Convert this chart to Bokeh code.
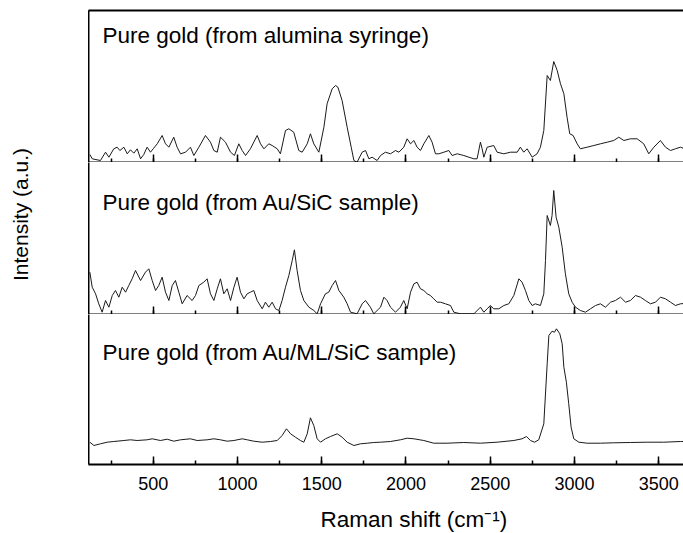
import math
from bokeh.plotting import figure
from bokeh.layouts import row, column
from bokeh.models import (Range1d, SingleIntervalTicker, LinearAxis, FixedTicker,
                          CustomLabelingPolicy)
from bokeh.core.properties import value
from bokeh.embed import file_html
from bokeh.resources import INLINE

# ---------------- data ----------------
titles = ["Pure gold (from alumina syringe)",
          "Pure gold (from Au/SiC sample)",
          "Pure gold (from Au/ML/SiC sample)"]
x_label = "Raman shift (cm\u207b\u00b9)"
y_label = "Intensity (a.u.)"

top_x = [124, 138, 187, 217, 237, 266, 286, 302, 326, 346,
         365, 385, 405, 425, 444, 464, 484, 500, 524, 553,
         573, 593, 622, 642, 662, 692, 721, 741, 771, 810,
         840, 860, 880, 899, 929, 959, 982, 1008, 1028, 1048,
         1077, 1117, 1137, 1157, 1186, 1206, 1236, 1255, 1285, 1305,
         1334, 1364, 1384, 1414, 1433, 1453, 1483, 1513, 1532, 1562,
         1582, 1596, 1621, 1651, 1675, 1691, 1710, 1740, 1760, 1780,
         1799, 1829, 1849, 1878, 1908, 1938, 1958, 1987, 2007, 2027,
         2047, 2066, 2086, 2106, 2136, 2155, 2175, 2195, 2225, 2254,
         2274, 2304, 2343, 2373, 2403, 2422, 2442, 2452, 2462, 2482,
         2521, 2541, 2581, 2620, 2660, 2679, 2699, 2719, 2749, 2778,
         2798, 2818, 2838, 2857, 2877, 2897, 2917, 2937, 2956, 2972,
         2992, 3016, 3035, 3075, 3115, 3154, 3194, 3233, 3263, 3293,
         3332, 3372, 3411, 3441, 3471, 3510, 3540, 3570, 3599, 3629,
         3650]
top_i = [8, 3.7, 2, 10.3, 5.3, 13.7, 15.3, 12, 15.3, 8.7,
         12.7, 9.3, 13.7, 3.7, 8, 15.3, 10.3, 13.7, 18.7, 27,
         18.7, 15.3, 25.3, 15.3, 8.7, 10.3, 15.3, 7, 15.3, 27,
         20.3, 12, 10.3, 25.3, 20.3, 10.3, 7, 18.7, 12, 7,
         13.7, 27, 18.7, 13.7, 18.7, 17, 13.7, 8.7, 32, 33.7,
         30.3, 12, 10.3, 18.7, 28.7, 18.7, 10.3, 35.3, 58.7, 73.7,
         77, 75.3, 62, 35.3, 15.3, 2, 0.3, 10.3, 12, 3.7,
         5.3, 2, 7, 10.3, 8.7, 12, 10.3, 15.3, 23.7, 18.7,
         22, 15.3, 12, 18.7, 27, 20.3, 8.7, 8.7, 10.3, 12,
         7, 8.7, 7, 5.3, 3.7, 3.7, 20.3, 13.7, 5.3, 15.3,
         17, 10.3, 8.7, 10.3, 10.3, 15.3, 10.3, 13.7, 5.3, 8.7,
         15.3, 32, 87, 82, 101, 92.3, 78.7, 68.7, 45.3, 28.7,
         27, 18.7, 13.7, 15.3, 17, 18.7, 20.3, 22, 25.3, 22,
         23.7, 23.7, 18.7, 8.7, 15.3, 22, 15.3, 12, 13.7, 15.3,
         14]

mid_x = [124, 138, 158, 177, 197, 217, 237, 257, 276, 296,
         316, 336, 355, 375, 395, 425, 454, 474, 494, 514,
         533, 553, 573, 593, 613, 632, 652, 672, 701, 731,
         751, 771, 800, 820, 840, 860, 880, 899, 919, 939,
         959, 979, 998, 1018, 1038, 1058, 1077, 1097, 1117, 1147,
         1166, 1186, 1206, 1226, 1246, 1265, 1285, 1305, 1325, 1338,
         1354, 1374, 1394, 1424, 1453, 1473, 1493, 1522, 1542, 1562,
         1582, 1602, 1631, 1651, 1671, 1710, 1740, 1760, 1789, 1809,
         1839, 1849, 1869, 1888, 1908, 1938, 1967, 1987, 2007, 2027,
         2047, 2066, 2086, 2106, 2126, 2145, 2165, 2185, 2205, 2234,
         2264, 2284, 2323, 2363, 2403, 2442, 2462, 2482, 2501, 2521,
         2551, 2581, 2610, 2640, 2670, 2689, 2709, 2729, 2749, 2768,
         2798, 2818, 2828, 2838, 2857, 2867, 2877, 2891, 2907, 2927,
         2946, 2966, 2986, 3006, 3035, 3065, 3095, 3125, 3154, 3184,
         3214, 3243, 3273, 3303, 3332, 3362, 3392, 3421, 3451, 3481,
         3510, 3540, 3570, 3599, 3629, 3650]
mid_i = [42.3, 27.3, 20.7, 10.7, 2.3, 14, 7.3, 19, 24, 17.3,
         27.3, 22.3, 29, 35.7, 44, 34, 42.3, 45.7, 34, 24,
         29, 37.3, 22.3, 14, 29, 34, 22.3, 10.7, 19, 14,
         19, 29, 32.3, 35.7, 20.7, 14, 25.7, 35.7, 20.7, 25.7,
         14, 27.3, 37.3, 22.3, 15.7, 20.7, 22.3, 24, 14, 5.7,
         12.3, 7.3, 12.3, 5.7, 4, 14, 27.3, 39, 54, 64.7,
         44, 24, 14, 7.3, 4, 0.7, 10.7, 20.7, 22.3, 29,
         34, 24, 17.3, 10.7, 2.3, 0.7, 10.7, 14, 7.3, 0.7,
         5.7, 7.3, 17.3, 14, 7.3, 2.3, 7.3, 14, 5.7, 22.3,
         30.7, 32.3, 25.7, 24, 20.7, 19, 15.7, 12.3, 12.3, 10.7,
         9, 2.3, 0.7, 0.7, 0.7, 7.3, 2.3, 5.7, 9, 5.7,
         5.7, 9, 10.7, 19, 35.7, 32.3, 24, 14, 9, 10.7,
         9, 20.7, 54, 99, 89, 99, 124, 97.3, 87.3, 67.3,
         40.7, 20.7, 12.3, 7.3, 4, 2.3, 5.7, 9, 10.7, 7.3,
         12.3, 14, 17.3, 12.3, 14, 19, 17.3, 14, 10.7, 12.3,
         17.3, 15.7, 12.3, 9, 10.7, 11]

bot_x = [124, 148, 187, 227, 266, 326, 365, 405, 464, 494,
         543, 583, 622, 662, 721, 761, 820, 860, 899, 939,
         979, 1028, 1058, 1097, 1147, 1196, 1236, 1265, 1291, 1315,
         1344, 1374, 1394, 1414, 1433, 1453, 1473, 1493, 1522, 1552,
         1592, 1621, 1651, 1691, 1730, 1770, 1809, 1849, 1908, 1967,
         2007, 2047, 2106, 2165, 2244, 2343, 2442, 2541, 2640, 2689,
         2715, 2739, 2763, 2788, 2818, 2838, 2848, 2867, 2881, 2893,
         2913, 2927, 2937, 2952, 2966, 2980, 2996, 3026, 3075, 3154,
         3233, 3332, 3431, 3530, 3629, 3650]
bot_i = [22.3, 19, 20.7, 22.3, 23, 24, 24.7, 24, 24.7, 25.7,
         24, 25.3, 23.3, 24.7, 25.7, 24, 24.7, 25.7, 24.7, 23.3,
         24, 25.7, 24.7, 23.3, 22.3, 23, 24, 29, 35.7, 30.7,
         27.3, 24, 22.3, 30.7, 46.7, 39, 25.7, 22.3, 25.7, 28,
         30.7, 27.3, 22.3, 19, 20.7, 21.3, 22, 22.3, 23, 24.7,
         26.3, 25.7, 24, 21.3, 21.3, 22, 21.3, 22.3, 24, 25.7,
         28, 24, 22.3, 24.7, 40.7, 100.7, 129, 133.3, 132.3, 135.7,
         130.7, 120.7, 97.3, 82.3, 60.7, 37.3, 25.7, 22.3, 21.3, 21.3,
         21.7, 22, 22.3, 22.3, 23, 23]

x_ticks_major = 500

# ---------------- styling ----------------
FONT = "Liberation Sans"
FRAME_W = 595
xr = Range1d(116, 3647)


def bare_axis(ax):
    ax.ticker = FixedTicker(ticks=[])
    ax.major_tick_in = 0
    ax.major_tick_out = 0
    ax.minor_tick_in = 0
    ax.minor_tick_out = 0
    ax.major_label_standoff = 0
    ax.axis_line_width = 2
    ax.axis_line_color = "black"


def panel(xs, ys, title, title_y, frame_h, top_border=False, labels=False, bottom=0):
    p = figure(frame_width=FRAME_W, frame_height=frame_h, x_range=xr,
               y_range=Range1d(0, frame_h), output_backend="svg",
               toolbar_location=None, min_border_left=0, min_border_right=0,
               min_border_top=10 if top_border else 0, min_border_bottom=bottom)
    p.outline_line_color = None
    p.xgrid.grid_line_color = None
    p.ygrid.grid_line_color = None
    p.background_fill_color = "white"
    p.border_fill_color = "white"
    p.line(xs, ys, line_color="#1a1a1a", line_width=1)
    p.text(x=[199], y=[title_y], text=[title], text_font=value(FONT),
           text_font_size="22.5px", text_align="left", text_baseline="middle",
           text_color="black")
    ax = p.xaxis[0]
    ax.ticker = SingleIntervalTicker(interval=x_ticks_major, num_minor_ticks=2)
    ax.major_tick_in = 8
    ax.major_tick_out = 0
    ax.minor_tick_in = 4
    ax.minor_tick_out = 0
    ax.axis_line_width = 2
    ax.axis_line_color = "black"
    ax.major_tick_line_width = 1.5
    ax.minor_tick_line_width = 1.5
    ax.major_tick_line_color = "black"
    ax.minor_tick_line_color = "black"
    if labels:
        ax.major_label_text_font = FONT
        ax.major_label_text_font_size = "18px"
        ax.major_label_text_color = "black"
        ax.major_label_standoff = 12
    else:
        ax.major_label_text_font_size = "0px"
        ax.major_label_standoff = 0
        ax.major_label_policy = CustomLabelingPolicy(code="return new Set()")
    bare_axis(p.yaxis[0])
    if top_border:
        top = LinearAxis()
        bare_axis(top)
        p.add_layout(top, "above")
    return p


p1 = panel(top_x, top_i, titles[0], 127, 152, top_border=True)
p2 = panel(mid_x, mid_i, titles[1], 112.5, 152)
p3 = panel(bot_x, bot_i, titles[2], 112.5, 150, labels=True, bottom=40)

# x-axis title strip
XL_H = 29
xl = figure(frame_width=FRAME_W, frame_height=XL_H, x_range=xr, y_range=Range1d(0, XL_H),
            output_backend="svg", toolbar_location=None, min_border=0,
            x_axis_location=None, y_axis_location=None)
xl.outline_line_color = None
xl.grid.visible = False
xl.text(x=[1493], y=[14.5], text=[x_label], text_font=value(FONT), text_font_size="22.5px",
        text_align="left", text_baseline="middle", text_color="black")

# y-axis title strip
TOTAL_H = 533
yl = figure(width=88, height=TOTAL_H, x_range=Range1d(0, 88), y_range=Range1d(0, TOTAL_H),
            output_backend="svg", toolbar_location=None, min_border=0,
            x_axis_location=None, y_axis_location=None)
yl.outline_line_color = None
yl.grid.visible = False
yl.text(x=[20], y=[TOTAL_H - 214], text=[y_label], text_font=value(FONT),
        text_font_size="21px", angle=math.pi / 2, text_align="center",
        text_baseline="middle", text_color="black")

layout = row(yl, column(p1, p2, p3, xl))

open("out.html", "w").write(file_html(layout, INLINE))
